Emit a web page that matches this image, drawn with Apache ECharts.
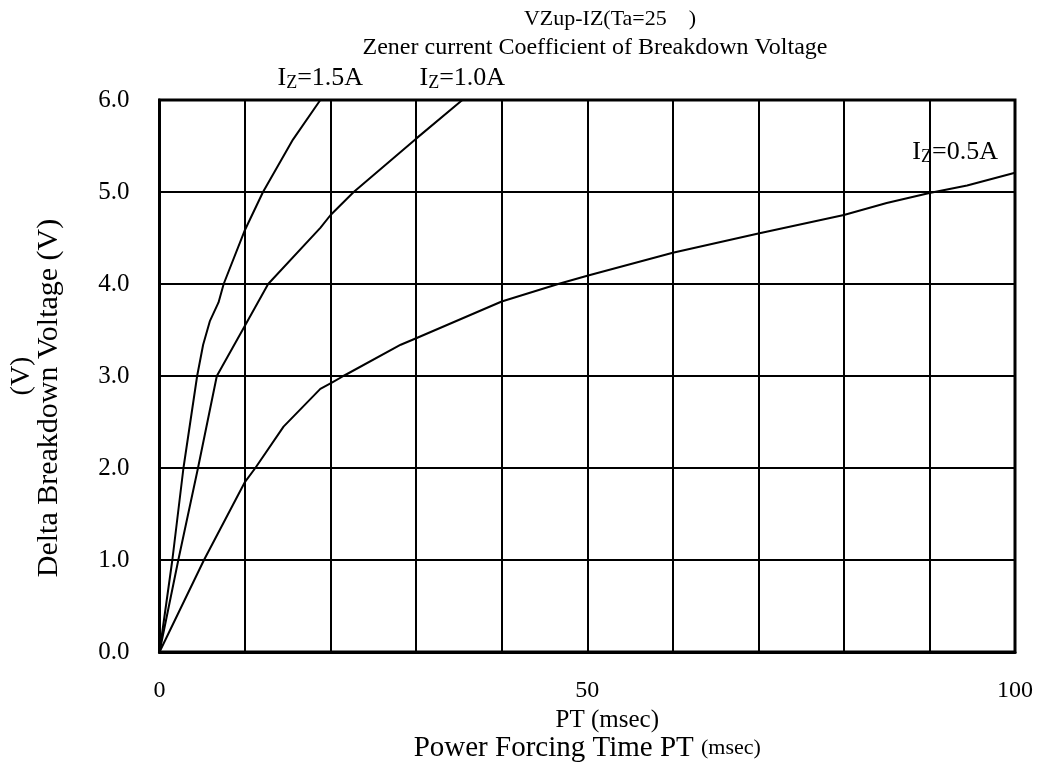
<!DOCTYPE html>
<html>
<head>
<meta charset="utf-8">
<script src="https://cdn.jsdelivr.net/npm/echarts@6/dist/echarts.min.js"></script>
<style>
html,body{margin:0;padding:0;background:#fff;}
#chart{width:1040px;height:771px;}
</style>
</head>
<body>
<div id="chart"></div>
<script>
// Power forcing time PT (msec) and delta breakdown voltage (V) for each zener current
const pt15 = [0, 1.5, 2.8, 4.4, 5.1, 5.9, 6.9, 7.5, 10, 12.1, 15.6, 18.8];
const dv15 = [0, 1.0, 2.0, 3.0, 3.34, 3.6, 3.8, 4.0, 4.59, 5.0, 5.57, 6.0];

const pt10 = [0, 2.2, 4.5, 6.7, 10, 12.7, 18.8, 20, 22.7, 30, 35.4];
const dv10 = [0, 1.0, 2.0, 3.0, 3.55, 4.0, 4.61, 4.75, 5.0, 5.58, 6.0];

const pt05 = [0, 5.2, 10, 11.2, 14.5, 18.8, 20.2, 21.5, 28.2, 30, 40, 46.6, 50, 60, 70, 80, 85, 90, 94.4, 100];
const dv05 = [0, 1.0, 1.85, 2.0, 2.45, 2.86, 2.93, 3.0, 3.34, 3.41, 3.81, 4.0, 4.09, 4.34, 4.55, 4.75, 4.88, 4.99, 5.07, 5.21];

const seriesNames = ['1.5A', '1.0A', '0.5A'];
const xTickLabels = [0, 50, 100];

const FONT = "'Liberation Serif', 'Times New Roman', serif";

function pairs(xs, ys) { return xs.map((x, i) => [x, ys[i]]); }

const labelRich = {
  i: { fontFamily: FONT, fontSize: 26, color: '#000', lineHeight: 28, verticalAlign: 'middle' },
  z: { fontFamily: FONT, fontSize: 18, color: '#000', lineHeight: 18, verticalAlign: 'bottom' },
  r: { fontFamily: FONT, fontSize: 26, color: '#000', lineHeight: 28, verticalAlign: 'middle' }
};

function izLabel(name, coord, offset) {
  return {
    symbol: 'circle', symbolSize: 0, silent: true,
    data: [{ coord: coord }],
    label: {
      show: true, position: 'inside', offset: offset,
      formatter: '{i|I}{z|Z}{r|=' + name + '}',
      rich: labelRich
    }
  };
}

const lineStyle = { color: '#000', width: 2 };

const chart = echarts.init(document.getElementById('chart'), null, { renderer: 'canvas' });
chart.setOption({
  animation: false,
  backgroundColor: '#fff',
  title: [
    {
      text: 'VZup-IZ(Ta=25\u3000)',
      left: 605, top: 3, textAlign: 'center',
      textStyle: { fontFamily: FONT, fontSize: 22, fontWeight: 'normal', color: '#000' }
    },
    {
      text: 'Zener current Coefficient of Breakdown Voltage',
      left: 590, top: 31, textAlign: 'center',
      textStyle: { fontFamily: FONT, fontSize: 24, fontWeight: 'normal', color: '#000' }
    }
  ],
  grid: { left: 159, right: 25, top: 100, bottom: 119, show: true, borderColor: '#000', borderWidth: 3, backgroundColor: 'transparent' },
  xAxis: {
    type: 'value', min: 0, max: 100, interval: 10,
    axisLine: { show: true, lineStyle: { color: '#000', width: 3 } },
    axisTick: { show: false },
    splitLine: { show: true, lineStyle: { color: '#000', width: 2 } },
    axisLabel: {
      margin: 27, fontFamily: FONT, fontSize: 24, color: '#000',
      formatter: v => (xTickLabels.indexOf(v) >= 0 ? String(v) : '')
    },
    name: '{a|PT (msec)}\n{b|Power Forcing Time PT }{c|(msec)}',
    nameLocation: 'middle', nameGap: 53,
    nameTextStyle: {
      color: '#000',
      rich: {
        a: { fontFamily: FONT, fontSize: 25, color: '#000', lineHeight: 28, padding: [0, 0, 0, 40] },
        b: { fontFamily: FONT, fontSize: 29, color: '#000', lineHeight: 28 },
        c: { fontFamily: FONT, fontSize: 22, color: '#000', lineHeight: 28 }
      }
    }
  },
  yAxis: {
    type: 'value', min: 0, max: 6, interval: 1,
    axisLine: { show: true, lineStyle: { color: '#000', width: 3 } },
    axisTick: { show: false },
    splitLine: { show: true, lineStyle: { color: '#000', width: 2 } },
    axisLabel: { margin: 30, fontFamily: FONT, fontSize: 25, color: '#000', formatter: v => v.toFixed(1) },
    name: '{a|(V)}\n{b|Delta Breakdown Voltage (V)}',
    nameLocation: 'middle', nameGap: 97, nameRotate: 90,
    nameTextStyle: {
      color: '#000',
      rich: {
        a: { fontFamily: FONT, fontSize: 28, color: '#000', lineHeight: 27 },
        b: { fontFamily: FONT, fontSize: 30, color: '#000', lineHeight: 27, padding: [0, 44, 0, 0] }
      }
    }
  },
  series: [
    { name: seriesNames[0], type: 'line', data: pairs(pt15, dv15), showSymbol: false, symbol: 'none', lineStyle: lineStyle, clip: true,
      markPoint: izLabel(seriesNames[0], [pt15[pt15.length - 1], dv15[dv15.length - 1]], [0, -22]) },
    { name: seriesNames[1], type: 'line', data: pairs(pt10, dv10), showSymbol: false, symbol: 'none', lineStyle: lineStyle, clip: true,
      markPoint: izLabel(seriesNames[1], [pt10[pt10.length - 1], dv10[dv10.length - 1]], [0, -22]) },
    { name: seriesNames[2], type: 'line', data: pairs(pt05, dv05), showSymbol: false, symbol: 'none', lineStyle: lineStyle, clip: true,
      markPoint: izLabel(seriesNames[2], [93, 5.43], [0, 0]) }
  ]
});
</script>
</body>
</html>
